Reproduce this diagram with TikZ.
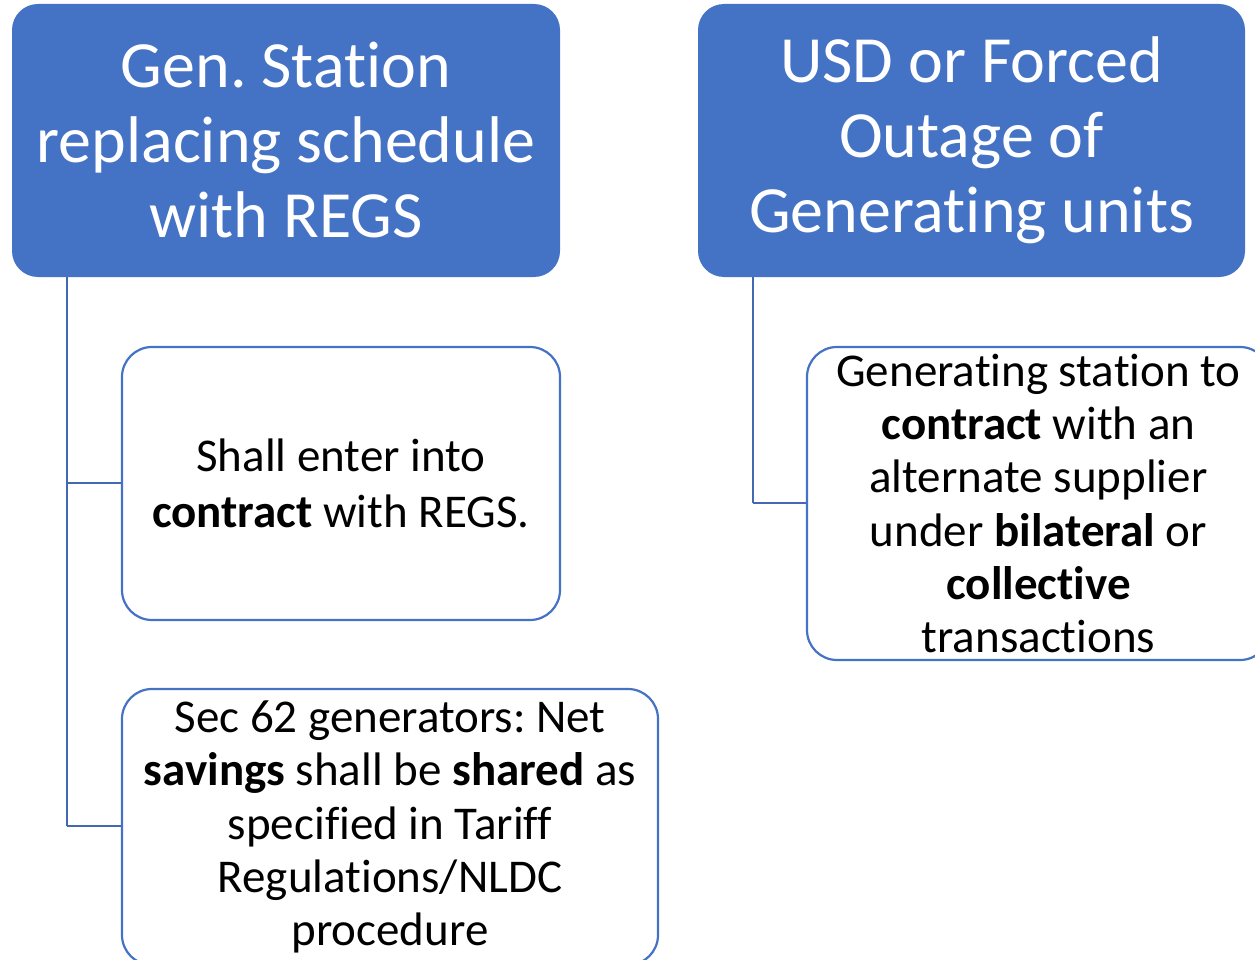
\documentclass[tikz,border=0pt]{standalone}
\usepackage{fontspec}
\setmainfont{Carlito}[Ligatures=NoCommon]
\frenchspacing
\begin{document}
\begin{tikzpicture}[x=1pt,y=-1pt,
  headbox/.style={draw=none, fill=hblue, rounded corners=26pt, text=white,
    align=center, inner sep=0pt, font=\fontsize{66}{75}\selectfont},
  itembox/.style={draw=hblue, line width=2.2pt, fill=white, rounded corners=30pt,
    align=center, inner sep=0pt, text=black, font=\fontsize{47}{53.3}\selectfont},
  link/.style={draw=lblue, line width=2.2pt}]
\definecolor{hblue}{HTML}{4472C4}
\definecolor{lblue}{HTML}{4468B4}
\useasboundingbox (0,0) rectangle (1255,960);
\clip (0,0) rectangle (1255,960);

% coordinates for the elbow joints of the connectors
\coordinate (lj1) at (67,483);
\coordinate (lj2) at (67,826);
\coordinate (rj1) at (753,503);

% header boxes
\node[headbox, minimum width=548pt, minimum height=273pt] (h1) at (286,140.5)
  {Gen. Station\\replacing schedule\\with REGS};
\node[headbox, minimum width=547pt, minimum height=273pt] (h2) at (971.5,140.5)
  {USD or Forced\\Outage of\\Generating units};

% connectors
\draw[link] (h1.south -| lj1) -- (lj2);
\draw[link] (h2.south -| rj1) -- (rj1);

% item boxes
\node[itembox, minimum width=438pt, minimum height=273pt] (b1) at (341,483.5)
  {Shall enter into\\[2pt]\textbf{contract} with REGS.};
\node[itembox, minimum width=536pt, minimum height=276pt] (b2) at (390,827)
  {Sec 62 generators: Net\\\textbf{savings} shall be \textbf{shared} as\\specified in Tariff\\Regulations/NLDC\\procedure};
\node[itembox, minimum width=463pt, minimum height=313pt] (b3) at (1038.5,503.5)
  {Generating station to\\\textbf{contract} with an\\alternate supplier\\under \textbf{bilateral} or\\\textbf{collective}\\transactions};

\draw[link] (lj1) -- (b1.west |- lj1);
\draw[link] (lj2) -- (b2.west |- lj2);
\draw[link] (rj1) -- (b3.west |- rj1);
\end{tikzpicture}
\end{document}
